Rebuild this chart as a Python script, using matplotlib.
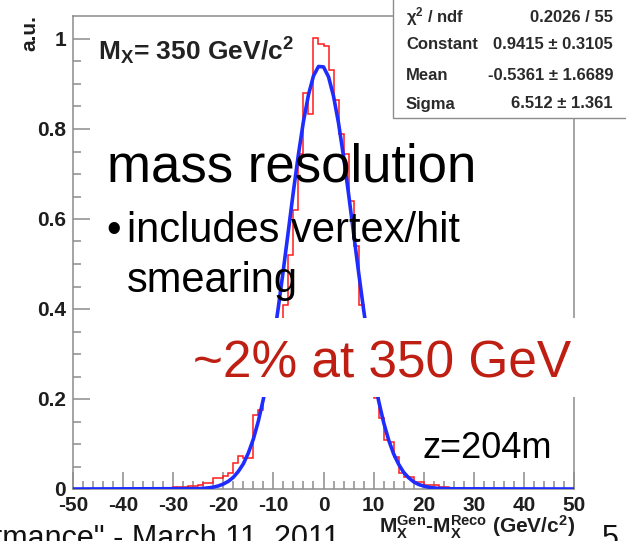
import matplotlib
matplotlib.use("Agg")
import matplotlib.pyplot as plt
import numpy as np
from matplotlib.patches import Rectangle

# ---- data ----
# histogram: 1 GeV bins from -50 to 50, only the non-empty ones listed
hist_range = (-50, 50)
bin_left = [-31, -30, -29, -28, -27, -26, -25, -24, -23, -22, -21, -20, -19, -18,
            -17, -16, -15, -14, -13, -12, -11, -10, -9, -8, -7, -6, -5, -4, -3,
            -2, -1, 0, 1, 2, 3, 4, 5, 6, 7, 8, 9, 10, 11, 12, 13, 14, 15, 16,
            17, 18, 19, 20, 21, 22, 23, 24, 25, 27, 30]
bin_content = [0.003, 0.004, 0.004, 0.005, 0.006, 0.006, 0.008, 0.013, 0.013,
               0.024, 0.024, 0.030, 0.035, 0.057, 0.073, 0.069, 0.069, 0.164,
               0.175, 0.215, 0.25, 0.29, 0.37, 0.41, 0.52, 0.62, 0.745, 0.879,
               0.834, 1.003, 0.99, 0.985, 0.932, 0.864, 0.79, 0.745, 0.64,
               0.54, 0.41, 0.36, 0.28, 0.202, 0.158, 0.11, 0.105, 0.071, 0.035,
               0.027, 0.027, 0.016, 0.016, 0.009, 0.009, 0.009, 0.005, 0.004,
               0.003, 0.003, 0.003]

# gaussian fit curve (blue), read point by point
fit_x = [-50, -25, -24, -23, -22, -21, -20, -19, -18, -17, -16, -15, -14, -13,
         -12, -11, -10, -9, -8, -7, -6, -5, -4, -3, -2, -1, 0, 1, 2, 3, 4, 5,
         6, 7, 8, 9, 10, 11, 12, 13, 14, 15, 16, 17, 18, 19, 20, 21, 22, 23,
         24, 25, 50]
fit_y = [0.0, 0.0008, 0.0014, 0.0025, 0.0041, 0.0068, 0.011, 0.017, 0.026,
         0.039, 0.056, 0.080, 0.111, 0.151, 0.200, 0.259, 0.327, 0.405, 0.488,
         0.575, 0.662, 0.744, 0.817, 0.876, 0.918, 0.939, 0.938, 0.916, 0.873,
         0.813, 0.739, 0.656, 0.569, 0.482, 0.399, 0.322, 0.254, 0.196, 0.148,
         0.109, 0.078, 0.055, 0.037, 0.025, 0.016, 0.010, 0.0065, 0.0040,
         0.0024, 0.0014, 0.0008, 0.0004, 0.0]

x_ticks = [-50, -40, -30, -20, -10, 0, 10, 20, 30, 40, 50]
y_ticks = [0, 0.2, 0.4, 0.6, 0.8, 1.0]
y_tick_labels = ["0", "0.2", "0.4", "0.6", "0.8", "1"]

stat_names = ["χ$^2$ / ndf", "Constant", "Mean", "Sigma"]
stat_values = ["0.2026 / 55", "0.9415 ± 0.3105", "-0.5361 ± 1.6689", "6.512 ± 1.361"]

# ---- style ----
plt.rcParams['font.family'] = ['Liberation Sans', 'DejaVu Sans']
plt.rcParams['axes.unicode_minus'] = False
plt.rcParams['mathtext.fontset'] = 'custom'
plt.rcParams['mathtext.rm'] = 'Liberation Sans:bold'
plt.rcParams['mathtext.bf'] = 'Liberation Sans:bold'
plt.rcParams['mathtext.default'] = 'rm'

W, H = 626, 541
def fx(px):
    return px / W
def fy(py):
    return 1 - py / H

fig = plt.figure(figsize=(W / 100, H / 100), dpi=100)
ax = fig.add_axes([fx(73), fy(489), fx(574) - fx(73), fy(16) - fy(489)])

edges = np.arange(hist_range[0], hist_range[1] + 1)
counts = np.zeros(len(edges) - 1)
for left, c in zip(bin_left, bin_content):
    counts[left - hist_range[0]] = c

ax.stairs(counts, edges, color='#ff1a1a', lw=1.1, zorder=2)
ax.plot(fit_x, fit_y, color='#1f2cff', lw=2.6, zorder=3, solid_capstyle='butt')

ax.set_xlim(hist_range)
ax.set_ylim(0, 473 / 450)

grey = '#8c8c8c'
for s in ax.spines.values():
    s.set_color(grey)
    s.set_linewidth(1.1)

ax.set_xticks(x_ticks)
ax.set_xticks(np.arange(-50, 51, 2), minor=True)
ax.set_yticks(y_ticks)
ax.set_yticklabels(y_tick_labels)
ax.set_yticks(np.arange(0, 1.01, 0.05), minor=True)
ax.tick_params(axis='both', which='major', direction='in', length=12, width=1.1,
               color=grey, labelsize=15, labelcolor='#1e1e1e')
ax.tick_params(axis='both', which='minor', direction='in', length=6, width=1.1,
               color=grey)
ax.tick_params(axis='x', which='both', pad=5)
ax.tick_params(axis='y', which='both', pad=5)
for lab in ax.get_xticklabels() + ax.get_yticklabels():
    lab.set_fontweight('bold')

# y title (ROOT style, top aligned)
fig.text(fx(30), fy(15), "a.u.", rotation=90, ha='center', va='top',
         fontsize=15, fontweight='bold', color='#1e1e1e')
# x title, right aligned at axis end
fig.text(fx(575), fy(533), r"M$_X^{Gen}$-M$_X^{Reco}$ (GeV/c$^2$)", ha='right',
         va='baseline', fontsize=15, fontweight='bold', color='#1e1e1e', zorder=3)

# mass label inside the frame
fig.text(fx(98), fy(60), r"M$_X$= 350 GeV/c$^2$", ha='left', va='baseline',
         fontsize=19, fontweight='bold', color='#222222')

# stats box
fig.patches.append(Rectangle((fx(393), fy(118)), fx(640) - fx(393), fy(-5) - fy(118),
                             transform=fig.transFigure, facecolor='white',
                             edgecolor=grey, lw=1.0, zorder=5))
row_y = [17, 45, 75, 104]
for name, val, yy in zip(stat_names, stat_values, row_y):
    fig.text(fx(406), fy(yy), name, ha='left', va='center', fontsize=12,
             fontweight='bold', color='#2a2a2a', zorder=6)
    fig.text(fx(613), fy(yy), val, ha='right', va='center', fontsize=12,
             fontweight='bold', color='#2a2a2a', zorder=6)

# slide overlay texts
fig.text(fx(107), fy(182), "mass resolution", ha='left', va='baseline',
         fontsize=38, color='black', zorder=7)
fig.text(fx(106), fy(242), "•", ha='left', va='baseline', fontsize=30,
         color='black', zorder=7)
fig.text(fx(127), fy(242), "includes vertex/hit", ha='left', va='baseline',
         fontsize=30, color='black', zorder=7)
fig.text(fx(127), fy(292), "smearing", ha='left', va='baseline', fontsize=30,
         color='black', zorder=7)

fig.patches.append(Rectangle((fx(185), fy(397)), fx(595) - fx(185), fy(318) - fy(397),
                             transform=fig.transFigure, facecolor='white',
                             edgecolor='none', zorder=6))
fig.text(fx(193), fy(377), "~2% at 350 GeV", ha='left', va='baseline',
         fontsize=37, color='#bf1f12', zorder=7)
fig.text(fx(422), fy(458), "z=204m", ha='left', va='baseline', fontsize=26,
         color='black', zorder=7)

# slide footer, cut by the picture edge
fig.text(fx(-8), fy(547), "rmance\" - March 11, 2011", ha='left', va='baseline',
         fontsize=22, color='#111111', zorder=1)
fig.text(fx(602), fy(547), "5", ha='left', va='baseline', fontsize=22,
         color='#111111', zorder=1)

fig.savefig("out.png", dpi=100)
